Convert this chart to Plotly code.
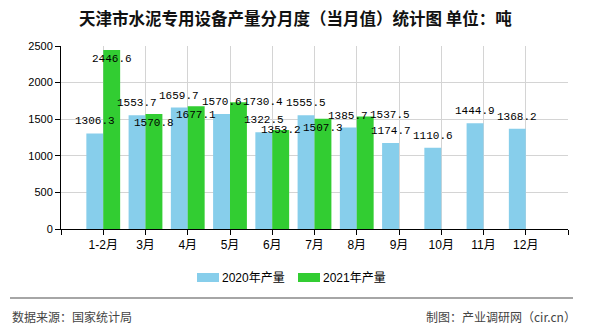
import plotly.graph_objects as go

months = ["1-2月", "3月", "4月", "5月", "6月", "7月", "8月", "9月", "10月", "11月", "12月"]
prod_2020 = [1306.3, 1553.7, 1659.7, 1570.6, 1322.5, 1555.5, 1385.7, 1174.7, 1110.6, 1444.9, 1368.2]
prod_2021 = [2446.6, 1570.8, 1677.1, 1730.4, 1353.2, 1507.3, 1537.5, None, None, None, None]
y_ticks = [0, 500, 1000, 1500, 2000, 2500]

title_text = "天津市水泥专用设备产量分月度（当月值）统计图 单位：吨"
source_text = "数据来源：国家统计局"
credit_text = "制图：产业调研网（cir.cn）"
names = ["2020年产量", "2021年产量"]
colors = ["#87CEEB", "#32CD32"]

W, H = 590, 330
L, R, T, B = 61, 22, 46, 101
PW, PH = W - L - R, H - T - B


def px(x):
    return (x - L) / PW


def py(y):
    return (H - B - y) / PH


xs = list(range(len(months)))

fig = go.Figure()
fig.add_trace(go.Bar(x=xs, y=prod_2020, name=names[0], marker_color=colors[0],
                     marker_line_width=0, hoverinfo="skip"))
fig.add_trace(go.Bar(x=xs, y=prod_2021, name=names[1], marker_color=colors[1],
                     marker_line_width=0, hoverinfo="skip"))

label_font = dict(family="Liberation Mono, DejaVu Sans Mono, monospace", size=11, color="#000")
# label nudges (px) for the few labels displaced in the original
nudge_2021 = {3: (25, 9), 4: (0, 9), 6: (25, 10)}

annotations = []
for i, v in enumerate(prod_2020):
    annotations.append(dict(x=i - 0.2, y=v, xref="x", yref="y", text=f"{v:.1f}",
                            showarrow=False, yshift=12, font=label_font))
for i, v in enumerate(prod_2021):
    if v is None:
        continue
    dx, dy = nudge_2021.get(i, (0, 0))
    annotations.append(dict(x=i + 0.2, y=v, xref="x", yref="y", text=f"{v:.1f}",
                            showarrow=False, yshift=-9 + dy, xshift=dx, font=label_font))

annotations.append(dict(x=px(W / 2), y=py(18), xref="paper", yref="paper", text=title_text,
                        showarrow=False, xanchor="center", yanchor="middle",
                        font=dict(family="Noto Sans CJK SC", size=16.5, color="#111", weight="bold")))
annotations.append(dict(x=px(12), y=py(316), xref="paper", yref="paper", text=source_text,
                        showarrow=False, xanchor="left", yanchor="middle", xshift=-2,
                        font=dict(family="Noto Sans CJK SC", size=12, color="#444")))
annotations.append(dict(x=px(576), y=py(316), xref="paper", yref="paper", text=credit_text,
                        showarrow=False, xanchor="right", yanchor="middle", xshift=2,
                        font=dict(family="Noto Sans CJK SC", size=12, color="#444")))

# custom legend
shapes = [dict(type="line", xref="paper", yref="paper",
               x0=px(10), x1=px(573), y0=py(298), y1=py(298),
               line=dict(color="#888", width=1.5))]
legend_x = [197, 298]
for lx, name, col in zip(legend_x, names, colors):
    shapes.append(dict(type="rect", xref="paper", yref="paper",
                       x0=px(lx), x1=px(lx + 22), y0=py(282), y1=py(273),
                       fillcolor=col, line=dict(width=0)))
    annotations.append(dict(x=px(lx + 25), y=py(277.5), xref="paper", yref="paper", text=name,
                            showarrow=False, xanchor="left", yanchor="middle", xshift=-2,
                            font=dict(family="Liberation Sans, Noto Sans CJK SC", size=12, color="#000")))

fig.update_layout(
    width=W, height=H,
    margin=dict(l=L, r=R, t=T, b=B, autoexpand=False),
    paper_bgcolor="white", plot_bgcolor="white",
    barmode="group", bargap=0.2, bargroupgap=0,
    showlegend=False,
    annotations=annotations,
    shapes=shapes,
    font=dict(family="Liberation Sans, Noto Sans CJK SC", color="#000"),
)

fig.update_xaxes(
    range=[-1, len(months)],
    tickmode="array", tickvals=list(range(-1, len(months) + 1)),
    ticktext=[""] + months + [""],
    showgrid=True, gridcolor="#d4d4d4", gridwidth=1,
    showline=True, linecolor="#000", linewidth=1,
    ticks="outside", ticklen=5, tickcolor="#000",
    tickfont=dict(family="Liberation Sans, Noto Sans CJK SC", size=12, color="#000"),
    zeroline=False, fixedrange=True,
)
fig.update_yaxes(
    range=[0, 2500],
    tickmode="array", tickvals=y_ticks,
    showgrid=True, gridcolor="#d4d4d4", gridwidth=1,
    showline=True, linecolor="#000", linewidth=1,
    ticks="outside", ticklen=5, tickcolor="#000",
    tickfont=dict(family="Liberation Sans", size=11, color="#000"),
    zeroline=False, fixedrange=True,
)

fig.write_html("out.html", config={"displayModeBar": False})
